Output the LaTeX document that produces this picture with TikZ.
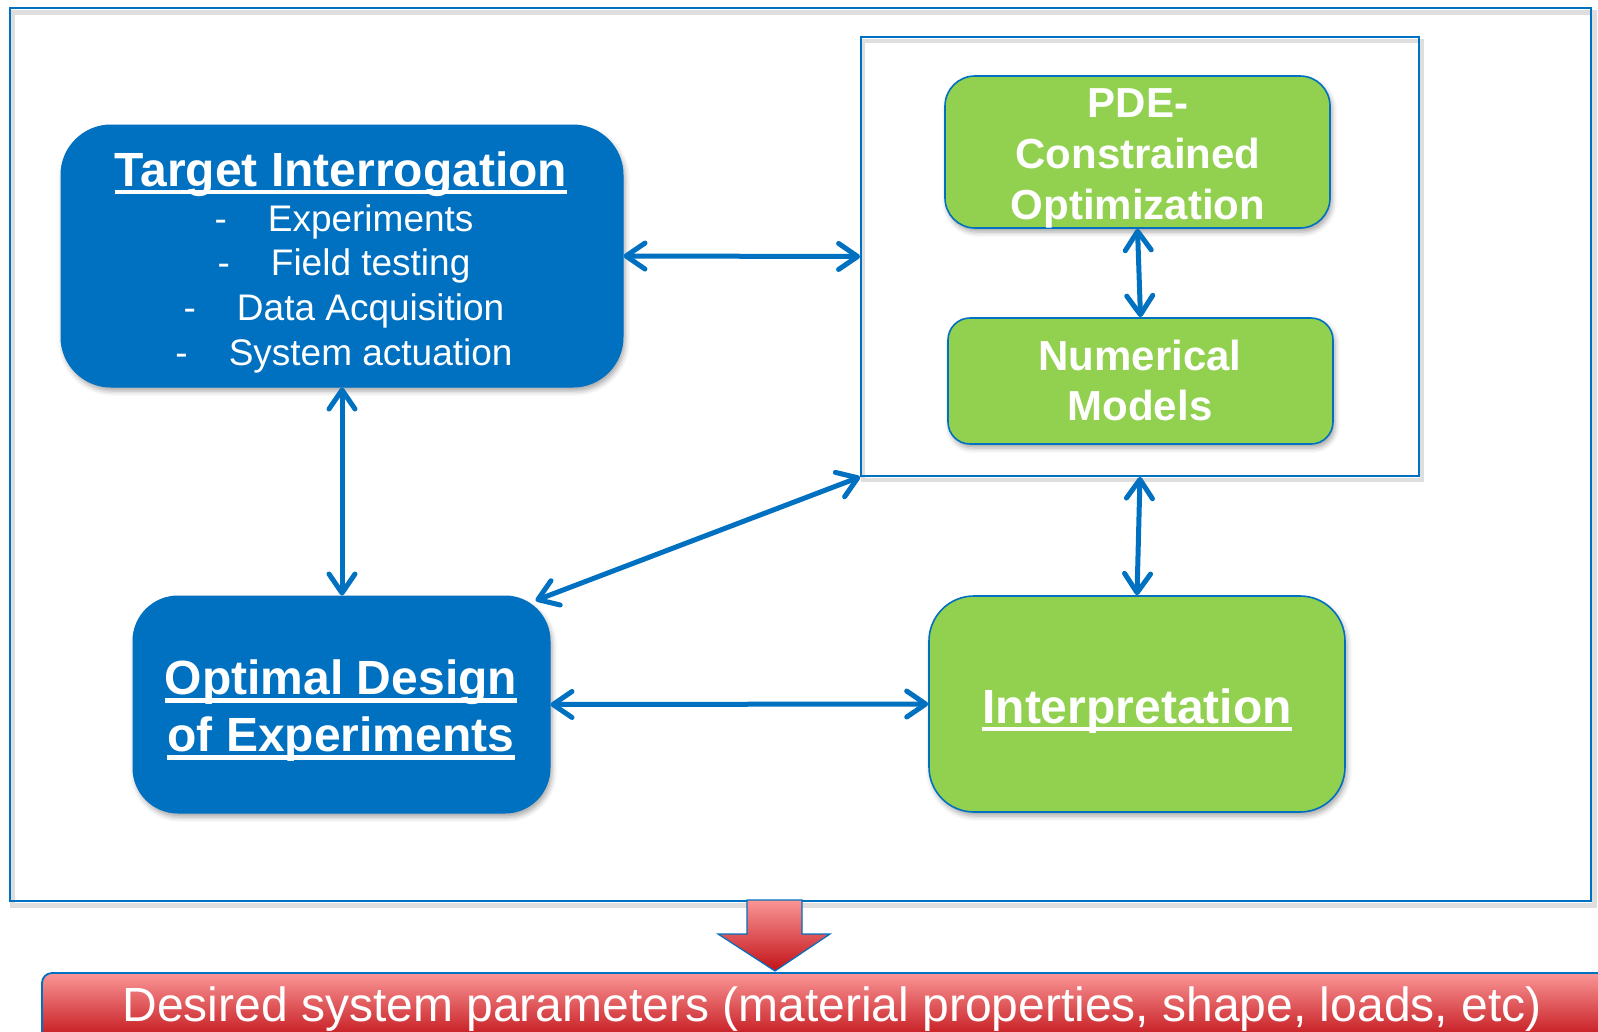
\documentclass[tikz,border=0pt]{standalone}
\usepackage{fontspec}
\setmainfont{Liberation Sans}
\usetikzlibrary{arrows.meta,shadows.blur,calc}

\definecolor{hblue}{RGB}{0,112,192}
\definecolor{hgreen}{RGB}{146,208,80}
\definecolor{rlight}{RGB}{250,150,150}
\definecolor{rdark}{RGB}{194,18,24}

\tikzset{
  boxshadow/.style={blur shadow={shadow xshift=2pt,shadow yshift=-4pt,
      shadow blur radius=5pt,shadow opacity=35}},
  bluebox/.style={shape=rectangle,draw=hblue,fill=hblue,line width=1pt,
      rounded corners=#1,inner sep=0pt,boxshadow},
  greenbox/.style={shape=rectangle,draw=hblue,fill=hgreen,line width=1.6pt,
      rounded corners=#1,inner sep=0pt,boxshadow},
  plainframe/.style={shape=rectangle,draw=hblue,inner sep=0pt},
  frameshadow/.style={draw=black,opacity=0.13,line width=#1},
  link/.style={draw=hblue,line width=5pt,
      {Straight Barb[length=19pt,width=26pt,round]}-{Straight Barb[length=19pt,width=26pt,round]}},
  txt/.style={text=white,inner sep=0pt,anchor=base},
  titlefont/.style={font=\fontsize{48}{56}\selectfont\bfseries},
  listfont/.style={font=\fontsize{37}{44}\selectfont},
  greenfont/.style={font=\fontsize{42}{50}\selectfont\bfseries},
  barfont/.style={font=\fontsize{48}{56}\selectfont},
  uline/.style={draw=white,line width=4.3pt},
}

\begin{document}
\begin{tikzpicture}[x=1pt,y=-1pt]
\useasboundingbox (0,0) rectangle (1598,1031);
\clip (0,0) rectangle (1598,1031);

% outer frame with a faint offset shadow of its outline
\draw[frameshadow=5pt] (12,12) rectangle (1594,905);
\node[plainframe,line width=2.6pt,minimum width=1581pt,minimum height=893pt]
  (frame) at (800.5,454.5) {};

% frame around the solver group
\draw[frameshadow=4pt] (863,41) rectangle (1422,480);
\node[plainframe,line width=1.8pt,fill=none,minimum width=558pt,minimum height=439pt]
  (grp) at (1140,256.5) {};

% main blocks
\node[bluebox=50pt,minimum width=562pt,minimum height=262pt] (ti) at (342,256) {};
\node[greenbox=30pt,minimum width=385pt,minimum height=152pt] (pde) at (1137.5,152) {};
\node[greenbox=22pt,minimum width=385pt,minimum height=126pt] (num) at (1140.5,381) {};
\node[bluebox=45pt,minimum width=417pt,minimum height=217pt] (ode) at (341.5,704.5) {};
\node[greenbox=45pt,minimum width=416pt,minimum height=216pt] (interp) at (1137,704) {};

% Target Interrogation text
\node[txt,titlefont] (ti-title) at (341,186) {Target Interrogation};
\draw[uline] ([yshift=-6pt]ti-title.base west) -- ([yshift=-6pt]ti-title.base east);
\node[txt,listfont] (ti-l1) at (344,231) {-\hspace{41pt}Experiments};
\node[txt,listfont] (ti-l2) at (344,275) {-\hspace{41pt}Field testing};
\node[txt,listfont] (ti-l3) at (344,320) {-\hspace{41pt}Data Acquisition};
\node[txt,listfont] (ti-l4) at (344,365) {-\hspace{41pt}System actuation};

% solver group text
\node[txt,greenfont] (pde-l1) at (1138,117) {PDE-};
\node[txt,greenfont] (pde-l2) at (1138,168) {Constrained};
\node[txt,greenfont] (pde-l3) at (1138,219) {Optimization};
\node[txt,greenfont] (num-l1) at (1140,370) {Numerical};
\node[txt,greenfont] (num-l2) at (1140,420) {Models};

% Optimal Design of Experiments text
\node[txt,titlefont] (ode-l1) at (341,694) {Optimal Design};
\draw[uline] ([yshift=-6.5pt]ode-l1.base west) -- ([yshift=-6.5pt]ode-l1.base east);
\node[txt,titlefont] (ode-l2) at (341,751) {of Experiments};
\draw[uline] ([yshift=-6.5pt]ode-l2.base west) -- ([yshift=-6.5pt]ode-l2.base east);

% Interpretation text
\node[txt,titlefont] (interp-t) at (1137,723) {Interpretation};
\draw[uline] ([yshift=-6pt]interp-t.base west) -- ([yshift=-6pt]interp-t.base east);

% two-way links
\draw[link] (ti.east) -- (grp.west);
\draw[link] (pde.south) -- (num.north);
\draw[link] (ti.south) -- (ti.south |- ode.north);
\draw[link] ([xshift=-15pt,yshift=-5pt]ode.north east) -- (grp.south west);
\draw[link] (ode.east) -- (interp.west);
\draw[link] (grp.south) -- (interp.north);

% result bar and block arrow
\node[shape=rectangle,draw=hblue,line width=1.8pt,rounded corners=10pt,
  top color=rlight,bottom color=rdark,inner sep=0pt,
  minimum width=1590pt,minimum height=68pt] (bar) at (837,1007) {};
\node[txt,barfont] (bar-t) at (832,1021)
  {Desired system parameters (material properties, shape, loads, etc)};
\path[draw=hblue,line width=1.2pt,top color=rlight,bottom color=rdark]
  (747,900) -- (802,900) -- (802,934) -- (830,934) -- (775,971)
  -- (718,934) -- (747,934) -- cycle;
\end{tikzpicture}
\end{document}
